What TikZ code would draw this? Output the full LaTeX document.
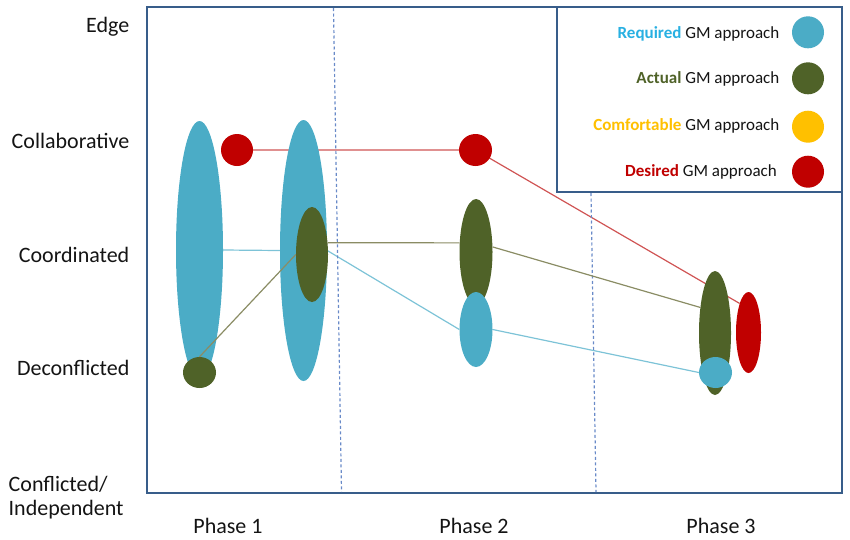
\documentclass[tikz,border=0pt]{standalone}
\usepackage{fontspec}
\setmainfont{Carlito}
\usetikzlibrary{shapes.geometric,backgrounds}
\definecolor{reqblue}{RGB}{75,172,198}
\definecolor{actgreen}{RGB}{79,98,40}
\definecolor{comfyellow}{RGB}{255,192,0}
\definecolor{desred}{RGB}{192,0,0}
\definecolor{framec}{RGB}{56,93,138}
\definecolor{dashc}{RGB}{105,138,200}
\definecolor{reqtext}{RGB}{40,176,226}
\definecolor{redline}{RGB}{208,84,84}
\definecolor{oliveline}{RGB}{138,140,100}
\definecolor{blueline}{RGB}{125,195,215}
\definecolor{textc}{RGB}{20,20,20}
\begin{document}
\begin{tikzpicture}[x=1pt,y=-1pt,
  blob/.style={ellipse,inner sep=0pt,draw=none},
  lab/.style={inner sep=0pt,font=\fontsize{22}{26}\selectfont,text=textc},
  legt/.style={inner sep=0pt,font=\fontsize{17}{20}\selectfont,text=textc,anchor=base east},
  frame/.style={draw=framec,line width=2.3pt},
  phasesep/.style={draw=dashc,dash pattern=on 3pt off 2.5pt,line width=1.2pt},
  conn/.style={line width=1.2pt}]
\useasboundingbox (0,0) rectangle (850,539);

% frame and phase separators
\draw[frame] (147,7) rectangle (842,493);
\coordinate (d1t) at (333.5,8);
\coordinate (d1b) at (341.5,492);
\coordinate (d2t) at (591,193);
\coordinate (d2b) at (596,492);
\draw[phasesep] (d1t) -- (d1b);
\draw[phasesep] (d2t) -- (d2b);

% blobs
\node[blob,fill=reqblue,minimum width=47pt,minimum height=258pt] (b1) at (199.5,250) {};
\node[blob,fill=reqblue,minimum width=47pt,minimum height=261pt] (b2) at (303.5,250.5) {};
\node[blob,fill=actgreen,minimum width=32pt,minimum height=95pt] (g2) at (312,254.5) {};
\node[blob,fill=actgreen,minimum width=33pt,minimum height=31pt] (g1) at (199.5,372.5) {};
\node[blob,fill=desred,minimum width=32pt,minimum height=32pt] (r1) at (237,150) {};
\node[blob,fill=desred,minimum width=33pt,minimum height=32pt] (r2) at (475.5,150) {};
\node[blob,fill=actgreen,minimum width=33pt,minimum height=106pt] (g3) at (476,252) {};
\node[blob,fill=reqblue,minimum width=33pt,minimum height=75pt] (b3) at (476,329.5) {};
\node[blob,fill=actgreen,minimum width=32pt,minimum height=124pt] (g4) at (715,333) {};
\node[blob,fill=reqblue,minimum width=33pt,minimum height=31pt] (b4) at (715.5,372.5) {};
\node[blob,fill=desred,minimum width=25pt,minimum height=81pt] (r3) at (748.5,332.5) {};

% connectors behind
\begin{pgfonlayer}{background}
\draw[conn,redline] (r1.center) -- (r2.center) -- (r3.107);
\draw[conn,blueline] (b1.east) -- (b2.west);
\draw[conn,blueline] (b2.east) -- (b3.west);
\draw[conn,blueline] (b3.east) -- (b4.west);
\end{pgfonlayer}
% connectors on top
\draw[conn,oliveline] (g1.north) -- (g2.west);
\draw[conn,oliveline] (g2.37) -- (g3.151);
\draw[conn,oliveline] (g3.17) -- (g4.120);

% legend
\draw[frame,fill=white] (557,7) rectangle (842,192);
\node[legt] (t1) at (779.5,38) {\textbf{\color{reqtext}Required} GM approach};
\node[legt] (t2) at (779.5,83.5) {\textbf{\color{actgreen}Actual} GM approach};
\node[legt] (t3) at (779.5,130) {\textbf{\color{comfyellow}Comfortable} GM approach};
\node[legt] (t4) at (777,176.5) {\textbf{\color{desred}Desired} GM approach};
\node[blob,fill=reqblue,minimum width=32pt,minimum height=32pt] (l1) at (808,32.3) {};
\node[blob,fill=actgreen,minimum width=32pt,minimum height=32pt] (l2) at (808,78.3) {};
\node[blob,fill=comfyellow,minimum width=32pt,minimum height=32pt] (l3) at (808,126.7) {};
\node[blob,fill=desred,minimum width=32pt,minimum height=32pt] (l4) at (808,171.7) {};

% axis labels
\node[lab,anchor=base east] (edge) at (129.5,32) {Edge};
\node[lab,anchor=base east] (collab) at (129.5,148) {Collaborative};
\node[lab,anchor=base east] (coord) at (129.5,262) {Coordinated};
\node[lab,anchor=base east] (decon) at (129.5,375) {Deconflicted};
\node[lab,anchor=base west] (confl) at (8.5,491.7) {Conflicted/};
\node[lab,anchor=base west] (indep) at (8.5,515.7) {Independent};
\node[lab,anchor=base] (p1) at (228,533) {Phase 1};
\node[lab,anchor=base] (p2) at (474,533) {Phase 2};
\node[lab,anchor=base] (p3) at (721,533) {Phase 3};
\end{tikzpicture}
\end{document}
